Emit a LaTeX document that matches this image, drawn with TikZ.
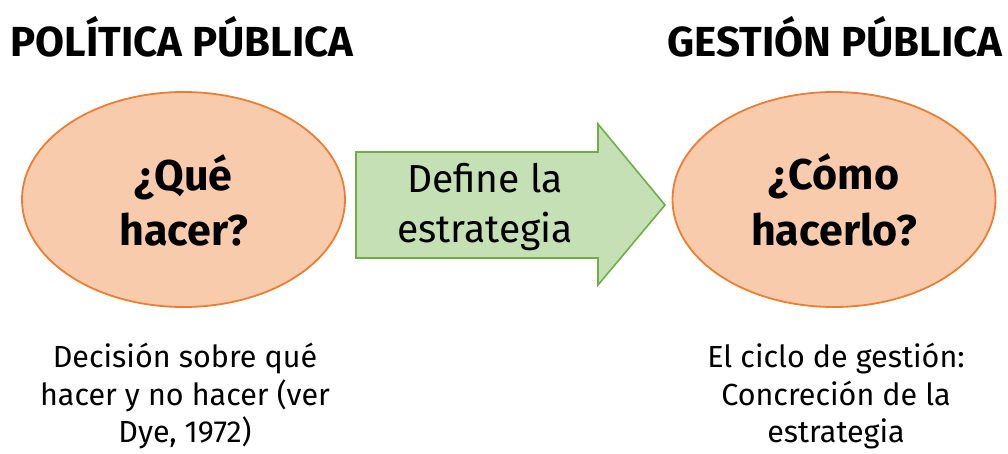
\documentclass[tikz,border=0pt]{standalone}
\usepackage{fontspec}
\setmainfont{Fira Sans}
\usetikzlibrary{shapes.geometric}
\definecolor{ellfill}{HTML}{F8CBAD}
\definecolor{elldraw}{HTML}{ED7D31}
\definecolor{arrfill}{HTML}{C5E0B4}
\definecolor{arrdraw}{HTML}{70AD47}
\tikzset{
  heading/.style={anchor=base, inner sep=0pt, font=\fontsize{42}{42}\selectfont\bfseries},
  bubble/.style={ellipse, fill=ellfill, draw=elldraw, line width=1.8pt, minimum width=323pt, minimum height=215pt, inner sep=0pt},
  bubbletxt/.style={anchor=base, inner sep=0pt, font=\fontsize{43}{43}\selectfont\bfseries},
  arrtxt/.style={anchor=base, inner sep=0pt, font=\fontsize{39}{39}\selectfont},
  note/.style={anchor=base, inner sep=0pt, font=\fontsize{30.5}{30.5}\selectfont},
}
\begin{document}
\begin{tikzpicture}[x=1pt, y=-1pt]
\useasboundingbox (0,0) rectangle (1008,453);
% headings
\node[heading] (h1) at (182,56) {POLÍTICA PÚBLICA};
\node[heading] (h2) at (835,56) {GESTIÓN PÚBLICA};
% ellipses
\node[bubble] (e1) at (183.5,199.5) {};
\node[bubble] (e2) at (834,199.5) {};
\node[bubbletxt] (q1a) at (183.5,190) {¿Qué};
\node[bubbletxt] (q1b) at (183.5,245) {hacer?};
\node[bubbletxt] (q2a) at (834,189) {¿Cómo};
\node[bubbletxt] (q2b) at (834,245) {hacerlo?};
% arrow
\draw[fill=arrfill, draw=arrdraw, line width=1.6pt, line join=miter]
  (356,152) -- (598,152) -- (598,124) -- (665,205) -- (598,285) -- (598,258) -- (356,258) -- cycle;
\node[arrtxt] (a1) at (485,192) {Define la};
\node[arrtxt] (a2) at (485,242) {estrategia};
% notes
\node[note] (n1a) at (185,367) {Decisión sobre qué};
\node[note] (n1b) at (185,405) {hacer y no hacer (ver};
\node[note] (n1c) at (185,442) {Dye, 1972)};
\node[note] (n2a) at (836,367) {El ciclo de gestión:};
\node[note] (n2b) at (836,405) {Concreción de la};
\node[note] (n2c) at (836,442) {estrategia};
\end{tikzpicture}
\end{document}
